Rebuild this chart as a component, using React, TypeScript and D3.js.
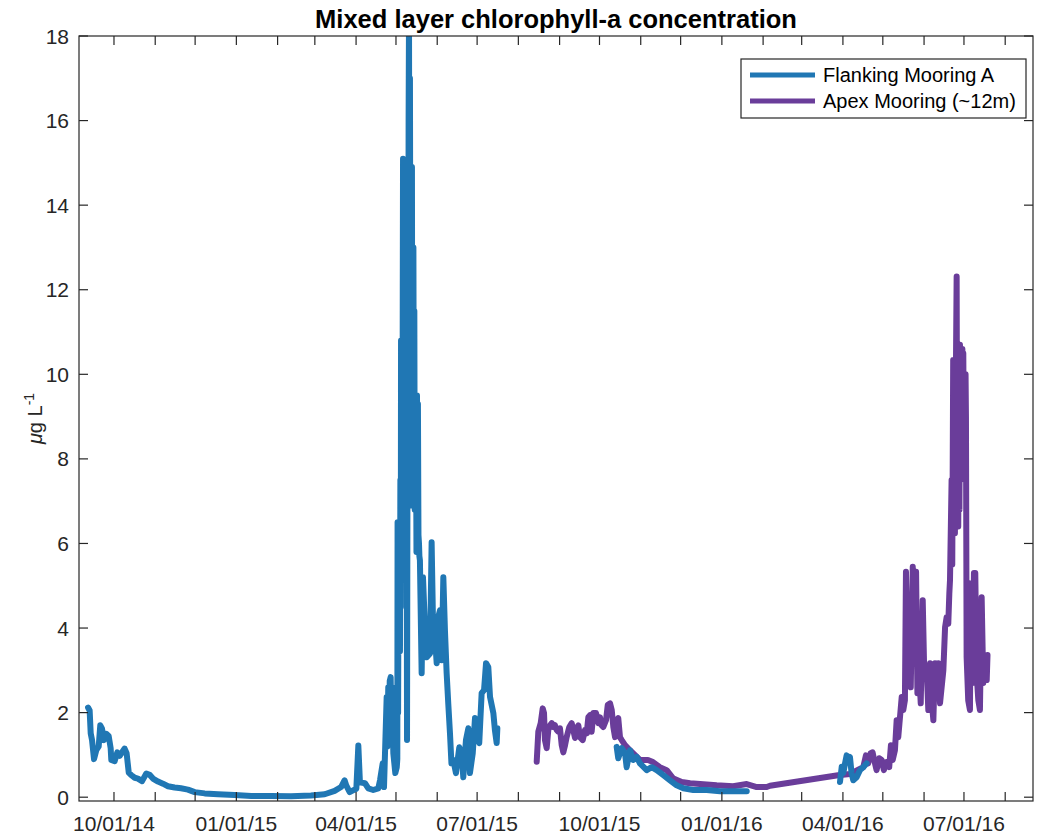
import React from 'react';
import * as d3 from 'd3';

// days since 2014-10-01 (UTC) and chlorophyll-a (ug/L); null breaks the line
const flankDays = [
  -19.5, -18.3, -17.5, -16.5, -15.0, -13.3, -11.5, -10.3, -9.0, -7.5, -5.8, -4.0, -2.5, -2.0, 0.5, 2.5, 4.3, 6.0, 8.0, 9.5,
  11.1, 13.0, 15.6, 18.0, 21.1, 24.3, 26.8, 29.3, 33.1, 36.8, 40.6, 45.6, 50.4, 55.6, 60.7, 68.2, 78.2, 90.7, 103.2, 118.0,
  133.1, 148.1, 158.4, 165.9, 170.7, 173.4, 174.6, 177.2, 179.7, 182.2, 183.7, 184.9, 188.7, 191.2, 194.9, 198.7, 200.0, 202.0, 203.0, 205.0,
  205.5, 206.2, 206.7, 207.3, 208.0, 208.5, 209.0, 210.0, 211.5, 212.6, 213.0, 213.2, 213.6, 214.0, 214.3, 214.7, 215.0, 215.3, 215.6, 215.8,
  216.1, 216.5, 216.8, 217.1, 217.3, 217.6, 217.9, 218.2, 218.5, 218.8, 219.1, 219.5, 219.8, 220.1, 220.3, 220.6, 220.9, 221.2, 221.5, 221.8,
  222.1, 222.5, 222.8, 223.0, 223.3, 223.6, 224.0, 224.3, 224.6, 224.8, 225.1, 225.5, 225.8, 226.1, 226.3, 226.7, 227.0, 227.4, 227.8, 228.1,
  228.5, 228.9, 229.3, 229.6, 230.0, 231.3, 232.3, 233.8, 235.1, 237.6, 238.8, 239.8, 241.3, 242.6, 243.8, 245.1, 246.4, 247.6, 248.8, 250.1,
  251.3, 252.6, 253.7, 255.1, 257.1, 259.6, 261.4, 262.6, 264.6, 266.4, 267.6, 269.7, 271.4, 273.1, 274.6, 276.4, 278.2, 279.7, 281.4, 282.7,
  285.2, 286.4, 287.7, 288.2,
  null,
  377.9, 379.1, 381.7, 384.2, 385.4, 387.9, 390.4, 393.0, 395.4, 400.5, 404.2, 408.0, 413.0, 418.0, 423.0, 428.0, 435.5, 445.6, 455.6, 465.6, 475.7,
  null,
  545.8, 547.1, 548.3, 549.6, 550.8, 552.0, 553.3, 554.5, 555.8, 558.3, 560.8, 563.3, 565.8,
];
const flankValues = [
  2.12, 2.05, 1.51, 1.35, 0.9, 1.11, 1.2, 1.7, 1.62, 1.35, 1.5, 1.45, 1.16, 0.88, 0.85, 1.06, 0.98, 1.06, 1.15, 1.04,
  0.58, 0.52, 0.46, 0.44, 0.38, 0.56, 0.53, 0.44, 0.37, 0.32, 0.26, 0.23, 0.21, 0.18, 0.12, 0.09, 0.07, 0.05, 0.03, 0.03,
  0.02, 0.04, 0.07, 0.15, 0.24, 0.4, 0.28, 0.12, 0.16, 0.2, 1.22, 0.35, 0.33, 0.21, 0.17, 0.21, 0.4, 0.8, 0.24, 2.37,
  1.2, 2.6, 1.5, 2.75, 2.84, 1.8, 2.6, 1.04, 0.57, 0.71, 0.9, 6.5, 2.0, 6.4, 5.2, 6.1, 3.45, 7.5, 4.5, 10.8,
  5.5, 10.5, 6.0, 12.0, 15.1, 7.0, 14.0, 6.8, 13.0, 14.5, 7.5, 12.5, 8.0, 6.0, 1.35, 7.0, 12.0, 9.5, 16.0, 18.5,
  11.0, 17.0, 12.0, 7.0, 13.5, 6.9, 14.9, 7.5, 12.0, 7.2, 13.0, 6.9, 11.5, 6.8, 9.2, 7.0, 9.4, 5.8, 9.5, 5.9,
  9.3, 6.2, 6.0, 5.7, 5.6, 2.93, 5.2, 4.02, 3.31, 3.4, 6.03, 4.19, 3.79, 3.17, 4.26, 4.42, 3.24, 5.2, 3.95, 2.93,
  2.22, 1.51, 0.8, 0.88, 0.57, 1.18, 1.04, 0.47, 1.35, 1.63, 0.57, 1.04, 1.87, 1.42, 1.28, 2.46, 2.53, 3.17, 3.08, 2.37,
  1.99, 1.58, 1.28, 1.63,
  null,
  1.19, 0.92, 1.16, 1.04, 0.71, 1.11, 0.88, 0.95, 0.8, 0.64, 0.71, 0.64, 0.52, 0.4, 0.28, 0.21, 0.17, 0.17, 0.14, 0.14, 0.14,
  null,
  0.36, 0.72, 0.57, 0.8, 0.99, 0.88, 0.95, 0.57, 0.4, 0.47, 0.64, 0.71, 0.8,
];

const apexDays = [
  317.8, 319.0, 320.8, 322.3, 323.3, 324.0, 325.3, 326.5, 327.8, 329.1, 330.3, 331.5, 332.8, 334.0, 335.3, 336.6, 337.8, 339.1, 340.3, 342.3,
  344.1, 345.3, 346.6, 347.9, 349.1, 350.3, 352.4, 354.1, 355.4, 356.6, 357.9, 359.1, 360.4, 362.4, 364.1, 365.4, 366.6, 367.9, 369.9, 371.2,
  372.9, 374.2, 375.4, 376.7, 377.9, 379.1, 380.4, 381.7, 384.2, 387.9, 390.2, 395.4, 401.4, 405.2, 410.4, 415.5, 420.2, 426.8, 433.1, 440.6,
  453.1, 465.4, 475.7, 483.2, 490.7, 493.2, 544.3, 553.3, 563.3, 565.3, 567.0, 568.8, 570.3, 571.5, 573.3, 575.3, 577.1, 578.8, 580.8, 582.8,
  584.1, 585.4, 587.1, 588.4, 589.6, 590.9, 592.2, 593.4, 594.6, 595.4, 596.4, 597.9, 599.0, 600.5, 601.5, 603.0, 604.0, 605.5, 606.5, 608.0,
  609.2, 611.0, 612.2, 613.5, 614.7, 616.0, 617.2, 618.5, 619.7, 621.0, 623.5, 624.8, 626.0, 627.2, 628.0, 628.5, 629.7, 630.2, 630.9, 631.3,
  631.8, 632.2, 632.8, 633.5, 633.9, 634.3, 634.7, 635.2, 635.6, 636.0, 636.5, 637.0, 637.3, 637.8, 638.2, 638.5, 639.0, 639.3, 639.8, 640.2,
  640.5, 641.0, 642.2, 643.5, 644.2, 645.5, 646.5, 647.5, 648.5, 649.8, 651.0, 652.3, 653.5, 654.8, 656.1, 656.7,
];
const apexValues = [
  0.84, 1.55, 1.75, 2.1, 1.99, 1.35, 1.16, 1.59, 1.7, 1.75, 1.66, 1.7, 1.59, 1.55, 1.63, 1.23, 1.06, 1.23, 1.42, 1.66,
  1.75, 1.59, 1.4, 1.63, 1.7, 1.42, 1.35, 1.59, 1.51, 1.89, 1.94, 1.55, 1.99, 1.99, 1.75, 1.89, 1.7, 1.66, 1.82, 2.18,
  2.22, 2.06, 1.66, 1.42, 1.82, 1.87, 1.42, 1.35, 1.23, 1.11, 1.04, 0.88, 0.88, 0.83, 0.71, 0.64, 0.45, 0.36, 0.33, 0.31,
  0.28, 0.26, 0.31, 0.24, 0.24, 0.27, 0.52, 0.55, 0.71, 0.99, 0.8, 1.04, 1.06, 0.88, 0.64, 0.92, 0.88, 0.64, 0.83, 0.71,
  1.23, 0.88, 1.11, 1.82, 1.42, 1.89, 2.37, 2.06, 2.29, 5.33, 3.56, 3.24, 2.6, 5.45, 3.24, 5.33, 2.46, 2.84, 2.22, 4.66,
  2.84, 3.0, 2.06, 3.17, 2.29, 1.82, 3.17, 2.6, 3.17, 2.22, 3.0, 4.02, 4.26, 4.1, 4.82, 5.13, 7.5, 5.5, 10.34, 7.0,
  10.0, 6.24, 9.5, 12.31, 7.0, 10.2, 6.4, 9.8, 6.8, 10.7, 7.5, 10.2, 8.45, 10.6, 7.9, 10.5, 7.6, 9.8, 7.7, 10.0,
  9.0, 3.31, 2.29, 2.06, 5.06, 2.7, 5.3, 5.3, 2.93, 2.29, 2.06, 4.73, 2.7, 3.31, 2.77, 3.36,
];

const yTicks = [0, 2, 4, 6, 8, 10, 12, 14, 16, 18];
const seriesNames = ['Flanking Mooring A', 'Apex Mooring (~12m)'];
const seriesColors = ['#2077b4', '#6a3d9a'];

const BASE = Date.UTC(2014, 9, 1);
const DAY = 86400000;
const toDate = (d: number) => new Date(BASE + d * DAY);

const W = 1037;
const H = 836;
const plot = { left: 79, right: 1033, top: 36, bottom: 801 };
const FONT = "'Liberation Sans', Arial, Helvetica, sans-serif";
const AX = '#262626';

type Pt = { d: number | null; v: number | null };
const zip = (days: (number | null)[], vals: (number | null)[]): Pt[] => days.map((d, i) => ({ d, v: vals[i] }));

export default function App() {
  const x = d3.scaleUtc().domain([toDate(-26.3), toDate(690.9)]).range([plot.left, plot.right]);
  const y = d3.scaleLinear().domain([-0.09, 18]).range([plot.bottom, plot.top]);

  const line = d3
    .line<Pt>()
    .defined((p) => p.d != null && p.v != null)
    .x((p) => x(toDate(p.d as number)))
    .y((p) => y(p.v as number));

  const flank = zip(flankDays, flankValues);
  const apex = zip(apexDays, apexValues);

  const months = d3.utcMonth.range(toDate(-26.3), toDate(690.9));
  const fmt = d3.utcFormat('%m/%d/%y');
  const tickLen = 9;

  return (
    <svg width={W} height={H} style={{ position: 'absolute', left: 0, top: 0, background: '#fff' }} fontFamily={FONT}>
      <defs>
        <clipPath id="plotclip">
          <rect x={plot.left} y={plot.top} width={plot.right - plot.left} height={plot.bottom - plot.top} />
        </clipPath>
      </defs>
      <rect width={W} height={H} fill="#fff" />

      <g clipPath="url(#plotclip)" fill="none" strokeWidth={6} strokeLinejoin="round" strokeLinecap="round">
        <path d={line(apex) ?? ''} stroke={seriesColors[1]} />
        <path d={line(flank) ?? ''} stroke={seriesColors[0]} />
      </g>

      {/* axes box */}
      <rect x={plot.left} y={plot.top} width={plot.right - plot.left} height={plot.bottom - plot.top} fill="none" stroke={AX} strokeWidth={1.2} />

      {/* x ticks */}
      {months.map((m) => {
        const px = x(m);
        const labelled = m.getUTCMonth() % 3 === 0;
        return (
          <g key={m.getTime()}>
            <line x1={px} x2={px} y1={plot.bottom} y2={plot.bottom - tickLen} stroke={AX} strokeWidth={1.2} />
            <line x1={px} x2={px} y1={plot.top} y2={plot.top + tickLen} stroke={AX} strokeWidth={1.2} />
            {labelled && (
              <text x={px} y={830.5} textAnchor="middle" fontSize={21} fill={AX}>
                {fmt(m)}
              </text>
            )}
          </g>
        );
      })}

      {/* y ticks */}
      {yTicks.map((t) => (
        <g key={t}>
          <line x1={plot.left} x2={plot.left + tickLen} y1={y(t)} y2={y(t)} stroke={AX} strokeWidth={1.2} />
          <line x1={plot.right} x2={plot.right - tickLen} y1={y(t)} y2={y(t)} stroke={AX} strokeWidth={1.2} />
          <text x={69} y={y(t)} dy="0.36em" textAnchor="end" fontSize={21} fill={AX}>
            {t}
          </text>
        </g>
      ))}

      {/* y label */}
      <text transform={`translate(42,${(plot.top + plot.bottom) / 2}) rotate(-90)`} textAnchor="middle" fontSize={20} fill={AX}>
        <tspan fontStyle="italic">μ</tspan>
        <tspan>g L</tspan>
        <tspan dy={-8} fontSize={14}>-1</tspan>
      </text>

      {/* title */}
      <text x={(plot.left + plot.right) / 2} y={28} textAnchor="middle" fontSize={25.5} fontWeight="bold" fill="#000">
        Mixed layer chlorophyll-a concentration
      </text>

      {/* legend */}
      <g>
        <rect x={741} y={59} width={285} height={59} fill="#fff" stroke={AX} strokeWidth={1.2} />
        {seriesNames.map((n, i) => (
          <g key={n}>
            <line x1={750} x2={815} y1={75 + i * 26} y2={75 + i * 26} stroke={seriesColors[i]} strokeWidth={5} />
            <text x={823} y={75 + i * 26} dy="0.36em" fontSize={20} fill="#000">
              {n}
            </text>
          </g>
        ))}
      </g>
    </svg>
  );
}
